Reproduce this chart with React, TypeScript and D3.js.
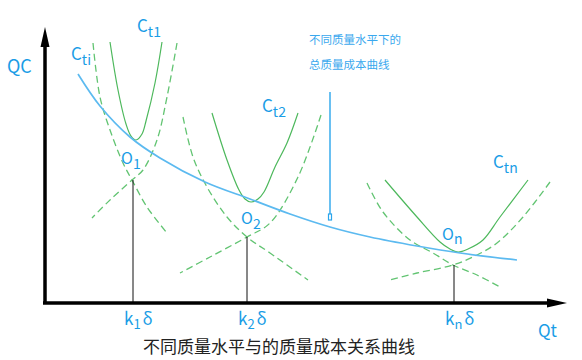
import React from "react";
import * as d3 from "d3";

// Data in chart units: x = quality level offset from origin, y = cost above the x-axis
type P = [number, number];

const toData = (pts: P[]): P[] => pts.map(([x, y]) => [x - 45, 303 - y]);

// Solid total-cost curves Ct1, Ct2, Ctn
const ct1Solid: P[] = toData([[110, 42], [118, 90], [126, 124], [131, 136], [136, 140], [142, 134], [146, 121], [155, 83], [162, 42]]);
const ct2Solid: P[] = toData([[212, 113], [227, 160], [239, 190], [245, 199], [251, 202], [258, 199], [264, 192], [275, 167], [287, 143], [298, 113]]);
const ctnSolid: P[] = toData([[385, 180], [417, 217], [440, 242], [450, 249], [458, 252], [468, 249], [483, 240], [500, 217], [528, 180]]);

// Dashed component curves (decreasing A, increasing B) crossing at O points
const g1DashA: P[] = toData([[93, 43], [100, 97], [110, 130], [123, 163], [132, 180], [147, 207], [167, 233]]);
const g1DashB: P[] = toData([[177, 43], [167, 97], [157, 140], [143, 170], [132, 180], [110, 200], [92, 218]]);
const g2DashA: P[] = toData([[183, 117], [193, 157], [207, 187], [227, 217], [247, 237], [270, 253], [308, 280]]);
const g2DashB: P[] = toData([[321, 115], [298, 177], [270, 223], [247, 237], [210, 257], [180, 273]]);
const gnDashA: P[] = toData([[367, 183], [383, 212], [410, 240], [433, 253], [453, 265], [477, 275], [500, 287]]);
const gnDashB: P[] = toData([[550, 182], [523, 217], [497, 243], [477, 255], [453, 265], [417, 273], [390, 280]]);

// Total quality cost curve across quality levels
const totalCurve: P[] = toData([[78, 74], [100, 106], [130, 137], [160, 158], [205, 182], [250, 199], [290, 214], [330, 227], [370, 237], [417, 246], [460, 253], [517, 260]]);

// Optimal points O1, O2, On (tick positions k·δ)
const optimumPts: P[] = toData([[133, 180], [247, 237], [454, 265]]);
const tickSubs = ["1", "2", "n"];

const xMax = 522;
const yMax = 276;

export default function App() {
  const W = 582, H = 360;
  const x = d3.scaleLinear().domain([0, xMax]).range([45, 567]);
  const y = d3.scaleLinear().domain([0, yMax]).range([303, 27]);
  const line = d3
    .line<P>()
    .x((d) => x(d[0]))
    .y((d) => y(d[1]))
    .curve(d3.curveCatmullRom.alpha(0.5));
  const blue = "#1a9de6";
  const green = "#4db85c";
  const dashGreen = "#62c472";
  const font = "'Noto Sans CJK SC', 'Noto Sans', sans-serif";

  const solids = [ct1Solid, ct2Solid, ctnSolid];
  const dashes = [g1DashA, g1DashB, g2DashA, g2DashB, gnDashA, gnDashB];

  return (
    <svg width={W} height={H} style={{ position: "absolute", left: 0, top: 0, background: "#fff" }} fontFamily={font}>
      {/* dashed component curves */}
      {dashes.map((d, i) => (
        <path key={"d" + i} d={line(d) || ""} fill="none" stroke={dashGreen} strokeWidth={1.3} strokeDasharray="7,4" />
      ))}
      {/* solid curves */}
      {solids.map((d, i) => (
        <path key={"s" + i} d={line(d) || ""} fill="none" stroke={green} strokeWidth={1.2} />
      ))}
      {/* total curve */}
      <path d={line(totalCurve) || ""} fill="none" stroke="#5cbaf0" strokeWidth={1.7} />

      {/* vertical lines from O points */}
      {optimumPts.map((p, i) => (
        <line key={"v" + i} x1={x(p[0])} x2={x(p[0])} y1={y(p[1])} y2={y(0)} stroke="#111" strokeWidth={1} />
      ))}

      {/* axes */}
      <line x1={x(0)} y1={y(0)} x2={x(0)} y2={y(yMax) + 10} stroke="#000" strokeWidth={3.5} />
      <line x1={x(0) - 2} y1={y(0)} x2={x(xMax) - 10} y2={y(0)} stroke="#000" strokeWidth={3.5} />
      <path d={`M${x(0)},${y(yMax)} L${x(0) - 4.5},${y(yMax) + 20} L${x(0) + 4.5},${y(yMax) + 20} Z`} fill="#000" />
      <path d={`M${x(xMax)},${y(0)} L${x(xMax) - 20},${y(0) - 4.5} L${x(xMax) - 20},${y(0) + 4.5} Z`} fill="#000" />

      {/* annotation arrow */}
      <line x1={330} y1={92} x2={330} y2={214} stroke="#2aa5ec" strokeWidth={1.4} />
      <rect x={328.5} y={214} width={3} height={6} fill="none" stroke="#2aa5ec" strokeWidth={1.2} />

      {/* axis labels */}
      <text x={7} y={73} fontSize={18} fill={blue}>QC</text>
      <text x={538} y={337} fontSize={17} fill={blue}>Qt</text>

      {/* curve labels */}
      <text x={71} y={60} fontSize={17} fill={blue}>C<tspan fontSize={14} dy={5}>ti</tspan></text>
      <text x={137} y={32} fontSize={17} fill={blue}>C<tspan fontSize={14} dy={5}>t1</tspan></text>
      <text x={262} y={112} fontSize={17} fill={blue}>C<tspan fontSize={14} dy={5}>t2</tspan></text>
      <text x={493} y={168} fontSize={17} fill={blue}>C<tspan fontSize={14} dy={5}>tn</tspan></text>

      {/* O labels */}
      <text x={121} y={164} fontSize={16} fill={blue}>O<tspan fontSize={14} dy={5}>1</tspan></text>
      <text x={241} y={224} fontSize={16} fill={blue}>O<tspan fontSize={14} dy={5}>2</tspan></text>
      <text x={442} y={240} fontSize={16} fill={blue}>O<tspan fontSize={14} dy={4}>n</tspan></text>

      {/* tick labels */}
      {optimumPts.map((p, i) => (
        <text key={"k" + i} x={x(p[0]) - 9} y={325} fontSize={17} fill={blue}>
          k<tspan fontSize={13} dy={4}>{tickSubs[i]}</tspan><tspan dy={-4} dx={2}>δ</tspan>
        </text>
      ))}

      {/* annotation text */}
      <text x={309} y={44} fontSize={11.5} fill="#3aa8ee">不同质量水平下的</text>
      <text x={309} y={69} fontSize={11.5} fill="#3aa8ee">总质量成本曲线</text>

      {/* caption */}
      <text x={143} y={353} fontSize={17} fill="#222">不同质量水平与的质量成本关系曲线</text>
    </svg>
  );
}
